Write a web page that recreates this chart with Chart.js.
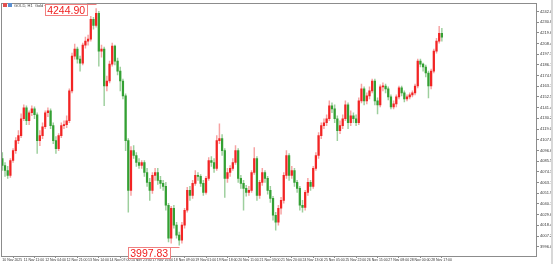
<!DOCTYPE html>
<html><head><meta charset="utf-8">
<script src="https://cdn.jsdelivr.net/npm/chart.js@4/dist/chart.umd.min.js"></script>
<style>html,body{margin:0;padding:0;background:#fff;}canvas{display:block;}</style>
</head><body>
<canvas id="c" width="553" height="264"></canvas>
<script>
const chartTitle = "GOLD, H1  Gold vs US Dollar";
const xTickLabels = ["10 Nov 2025","11 Nov 11:00","12 Nov 04:00","12 Nov 21:00","13 Nov 14:00","14 Nov 07:00","14 Nov 23:00","17 Nov 16:00","18 Nov 09:00","19 Nov 01:00","19 Nov 18:00","20 Nov 11:00","21 Nov 03:00","21 Nov 20:00","24 Nov 13:00","25 Nov 05:00","25 Nov 22:00","26 Nov 15:00","27 Nov 08:00","28 Nov 00:00","28 Nov 17:00"];
const xTickEvery = 8;
const totalSlots = 200;
const yTickValues = [3996.06,4007.24,4018.42,4029.60,4040.78,4051.96,4063.14,4074.32,4085.50,4096.68,4107.86,4119.04,4130.22,4141.40,4152.58,4163.76,4174.94,4186.12,4197.30,4208.48,4219.66,4230.84,4242.02];
const yMin = 3986.4, yMax = 4250.4;
const highLabel = "4244.90", lowLabel = "3997.83";

const opens = [
4088.3,4081.0,4075.8,4070.6,4086.2,4096.6,4107.0,4112.2,4129.8,4141.3,
4127.8,4136.1,4140.2,4134.0,4107.0,4112.2,4121.5,4136.1,4138.2,4122.6,
4107.0,4098.7,4112.2,4122.6,4123.6,4127.8,4158.9,4195.3,4202.6,4192.2,
4188.0,4206.8,4210.9,4213.0,4233.8,4227.5,4240.0,4200.5,4202.6,4164.1,
4169.3,4187.0,4205.7,4190.1,4179.7,4169.3,4153.8,4107.0,4055.0,4096.6,
4091.4,4084.1,4081.0,4084.1,4073.7,4063.3,4055.0,4070.6,4073.7,4065.4,
4062.3,4059.2,4039.4,4005.1,4036.3,4018.6,4008.2,4003.0,4018.6,4034.2,
4055.0,4049.8,4062.3,4070.6,4069.6,4062.3,4052.9,4067.5,4086.2,4084.1,
4077.9,4107.0,4109.1,4096.6,4067.5,4073.7,4077.9,4084.1,4096.6,4067.5,
4062.3,4057.1,4052.9,4055.0,4073.7,4088.3,4049.8,4063.3,4073.7,4067.5,
4055.0,4046.7,4029.0,4021.7,4036.3,4044.6,4070.6,4091.4,4070.6,4075.8,
4063.3,4057.1,4039.4,4037.3,4052.9,4063.3,4059.2,4077.9,4091.4,4112.2,
4122.6,4125.7,4129.8,4143.4,4140.2,4129.8,4117.4,4122.6,4129.8,4144.4,
4125.7,4133.0,4129.8,4125.7,4148.6,4161.0,4148.6,4153.8,4158.9,4169.3,
4148.6,4144.4,4163.1,4164.1,4161.0,4152.7,4142.3,4145.4,4152.7,4162.1,
4156.9,4150.6,4152.7,4154.8,4156.9,4164.1,4190.1,4187.0,4183.9,4177.7,
4164.1,4179.7,4200.5,4210.9,4219.2];
const highs = [
4094.5,4084.1,4080.0,4088.3,4098.7,4110.1,4117.4,4135.0,4144.4,4143.4,
4138.2,4143.4,4142.3,4136.1,4117.4,4125.7,4138.2,4141.3,4140.2,4125.7,
4111.1,4114.3,4125.7,4127.8,4133.0,4161.0,4198.4,4207.8,4204.7,4195.3,
4208.8,4215.1,4217.2,4236.9,4235.9,4244.90,4242.1,4206.8,4204.7,4174.5,
4190.1,4208.8,4206.8,4193.2,4183.9,4171.4,4155.8,4109.1,4100.7,4101.8,
4094.5,4088.3,4086.2,4086.2,4077.9,4067.5,4073.7,4077.9,4077.9,4069.6,
4065.4,4063.3,4041.5,4038.4,4039.4,4021.7,4011.4,4021.7,4036.3,4058.1,
4059.2,4065.4,4075.8,4073.7,4071.6,4065.4,4069.6,4089.3,4090.3,4088.3,
4112.2,4124.6,4113.2,4098.7,4077.9,4081.0,4088.3,4101.8,4098.7,4070.6,
4065.4,4060.2,4059.2,4075.8,4099.7,4090.3,4065.4,4077.9,4075.8,4069.6,
4059.2,4048.8,4032.1,4039.4,4047.7,4073.7,4096.6,4093.5,4080.0,4077.9,
4065.4,4059.2,4044.6,4055.0,4067.5,4065.4,4080.0,4094.5,4115.3,4125.7,
4129.8,4134.0,4148.6,4146.5,4144.4,4133.0,4127.8,4134.0,4148.6,4146.5,
4138.2,4136.1,4134.0,4151.7,4166.2,4163.1,4156.9,4163.1,4171.4,4171.4,
4151.7,4165.2,4167.3,4166.2,4163.1,4154.8,4148.6,4154.8,4164.1,4164.1,
4158.9,4154.8,4156.9,4158.9,4166.2,4192.2,4192.2,4188.0,4186.0,4179.7,
4181.8,4202.6,4214.0,4226.5,4224.4];
const lows = [
4075.8,4069.6,4067.5,4068.5,4084.1,4093.5,4103.9,4110.1,4127.8,4123.6,
4123.6,4133.0,4129.8,4093.5,4101.8,4109.1,4119.5,4131.9,4119.5,4103.9,
4093.5,4096.6,4110.1,4119.5,4120.5,4125.7,4156.9,4192.2,4188.0,4179.7,
4186.0,4203.6,4206.8,4210.9,4223.4,4225.5,4184.9,4194.3,4143.4,4158.9,
4167.3,4184.9,4186.0,4175.6,4158.9,4150.6,4096.6,4032.1,4049.8,4088.3,
4080.0,4077.9,4077.9,4069.6,4059.2,4044.6,4051.9,4065.4,4061.2,4057.1,
4055.0,4034.2,4001.0,3999.9,4015.5,4005.1,3997.83,3999.9,4015.5,4032.1,
4044.6,4046.7,4060.2,4065.4,4059.2,4049.8,4050.9,4065.4,4080.0,4073.7,
4075.8,4103.9,4091.4,4047.7,4063.3,4069.6,4075.8,4082.0,4063.3,4057.1,
4034.2,4048.8,4049.8,4052.9,4071.6,4044.6,4046.7,4060.2,4063.3,4050.9,
4042.5,4023.8,4013.4,4018.6,4030.1,4041.5,4067.5,4065.4,4067.5,4059.2,
4052.9,4034.2,4032.1,4034.2,4049.8,4055.0,4057.1,4075.8,4088.3,4109.1,
4119.5,4122.6,4127.8,4136.1,4125.7,4107.0,4114.3,4119.5,4127.8,4119.5,
4122.6,4125.7,4122.6,4123.6,4146.5,4144.4,4145.4,4150.6,4156.9,4144.4,
4135.0,4142.3,4158.9,4156.9,4149.6,4140.2,4140.2,4142.3,4150.6,4153.8,
4147.5,4148.6,4150.6,4152.7,4154.8,4162.1,4183.9,4179.7,4173.5,4151.7,
4161.0,4177.7,4198.4,4208.8,4210.9];
const closes = [
4081.0,4075.8,4070.6,4086.2,4096.6,4107.0,4112.2,4129.8,4141.3,4127.8,
4136.1,4140.2,4134.0,4107.0,4112.2,4121.5,4136.1,4138.2,4122.6,4107.0,
4098.7,4112.2,4122.6,4123.6,4127.8,4158.9,4195.3,4202.6,4192.2,4188.0,
4206.8,4210.9,4213.0,4233.8,4227.5,4240.0,4200.5,4202.6,4164.1,4169.3,
4187.0,4205.7,4190.1,4179.7,4169.3,4153.8,4107.0,4055.0,4096.6,4091.4,
4084.1,4081.0,4084.1,4073.7,4063.3,4055.0,4070.6,4073.7,4065.4,4062.3,
4059.2,4039.4,4005.1,4036.3,4018.6,4008.2,4003.0,4018.6,4034.2,4055.0,
4049.8,4062.3,4070.6,4069.6,4062.3,4052.9,4067.5,4086.2,4084.1,4077.9,
4107.0,4109.1,4096.6,4067.5,4073.7,4077.9,4084.1,4096.6,4067.5,4062.3,
4057.1,4052.9,4055.0,4073.7,4088.3,4049.8,4063.3,4073.7,4067.5,4055.0,
4046.7,4029.0,4021.7,4036.3,4044.6,4070.6,4091.4,4070.6,4075.8,4063.3,
4057.1,4039.4,4037.3,4052.9,4063.3,4059.2,4077.9,4091.4,4112.2,4122.6,
4125.7,4129.8,4143.4,4140.2,4129.8,4117.4,4122.6,4129.8,4144.4,4125.7,
4133.0,4129.8,4125.7,4148.6,4161.0,4148.6,4153.8,4158.9,4169.3,4148.6,
4144.4,4163.1,4164.1,4161.0,4152.7,4142.3,4145.4,4152.7,4162.1,4156.9,
4150.6,4152.7,4154.8,4156.9,4164.1,4190.1,4187.0,4183.9,4177.7,4164.1,
4179.7,4200.5,4210.9,4219.2,4215.1];

const UP = '#f22424', DOWN = '#33a033';
const UP_WICK = 'rgba(240,70,70,0.5)', DOWN_WICK = 'rgba(60,160,60,0.5)';
const isUp = closes.map((c, i) => c >= opens[i]);

const wickData = lows.map((l, i) => ({x: i, y: [l, highs[i]]}));
const bodyData = opens.map((o, i) => ({x: i, y: [o, closes[i]]}));

let hiIdx = 0, loIdx = 0;
highs.forEach((h, i) => { if (h > highs[hiIdx]) hiIdx = i; });
lows.forEach((l, i) => { if (l < lows[loIdx]) loIdx = i; });

const FONT = "'Liberation Sans', Arial, sans-serif";

const decor = {
  id: 'decor',
  beforeDraw(chart) {
    const ctx = chart.ctx;
    ctx.save();
    ctx.fillStyle = '#ffffff';
    ctx.fillRect(0, 0, chart.width, chart.height);
    ctx.restore();
  },
  afterDraw(chart) {
    const ctx = chart.ctx, a = chart.chartArea;
    const xs = chart.scales.x, ys = chart.scales.y;
    ctx.save();
    ctx.strokeStyle = '#8c8c8c';
    ctx.lineWidth = 1;
    ctx.strokeRect(Math.round(a.left) + 0.5, Math.round(a.top) + 0.5, Math.round(a.right - a.left) - 1, Math.round(a.bottom - a.top));
    ctx.fillStyle = '#d8d8d8';
    ctx.fillRect(chart.width - 2, 0, 2, chart.height);
    ctx.fillStyle = '#e05050'; ctx.fillRect(3, 3, 4, 4);
    ctx.fillStyle = '#5a8fd0'; ctx.fillRect(8, 3, 4, 4);
    ctx.fillStyle = '#444';
    ctx.font = '4px ' + FONT;
    ctx.textBaseline = 'middle';
    ctx.textAlign = 'left';
    ctx.fillText(chartTitle, 14, 5.5);
    ctx.font = '10.5px ' + FONT;
    ctx.textBaseline = 'alphabetic';
    const drawTag = (text, idx, val, above) => {
      const bx = xs.getPixelForValue(idx), by = ys.getPixelForValue(val);
      const w = 42, h = 11;
      const right = bx - 9, left = right - w;
      const top = above ? by - 5 : by + 2;
      ctx.fillStyle = '#ffffff';
      ctx.fillRect(left, top, w, h);
      ctx.strokeStyle = '#f08080';
      ctx.lineWidth = 1;
      ctx.strokeRect(Math.round(left) + 0.5, Math.round(top) + 0.5, w, h);
      ctx.beginPath();
      const ly = Math.round(top) + 0.5;
      ctx.moveTo(Math.round(right) + 0.5, ly);
      ctx.lineTo(Math.round(bx) + 0.5, ly);
      ctx.stroke();
      ctx.fillStyle = '#f02020';
      ctx.textAlign = 'center';
      ctx.fillText(text, left + w / 2, top + h - 1);
    };
    drawTag(highLabel, hiIdx, highs[hiIdx], true);
    drawTag(lowLabel, loIdx, lows[loIdx], false);
    ctx.restore();
  }
};

new Chart(document.getElementById('c'), {
  type: 'bar',
  data: {
    datasets: [
      {
        label: 'wick', data: wickData, grouped: false, barThickness: 0.8,
        backgroundColor: isUp.map(u => u ? UP_WICK : DOWN_WICK), borderWidth: 0, order: 2
      },
      {
        label: 'body', data: bodyData, grouped: false, barThickness: 1.6, minBarLength: 1,
        backgroundColor: isUp.map(u => u ? UP : DOWN), borderWidth: 0, order: 1
      }
    ]
  },
  options: {
    responsive: false,
    animation: false,
    devicePixelRatio: 1,
    layout: { padding: { left: 1, top: 2, right: 0, bottom: 0 } },
    plugins: { legend: { display: false }, tooltip: { enabled: false } },
    scales: {
      x: {
        type: 'linear', min: -0.5, max: totalSlots - 0.5, offset: false,
        grid: { drawOnChartArea: false, drawTicks: true, tickLength: 2, color: '#8c8c8c' },
        border: { display: false },
        afterBuildTicks(s) { s.ticks = xTickLabels.map((_, k) => ({ value: k * xTickEvery })); },
        afterFit(s) { s.height = 8; },
        ticks: {
          autoSkip: false, maxRotation: 0, minRotation: 0, align: 'start', padding: 0,
          font: { size: 3.5, family: FONT }, color: '#333',
          callback: (v, k) => xTickLabels[k]
        }
      },
      y: {
        position: 'right', min: yMin, max: yMax,
        grid: { drawOnChartArea: false, drawTicks: true, tickLength: 2, color: '#8c8c8c' },
        border: { display: false },
        afterBuildTicks(s) { s.ticks = yTickValues.map(v => ({ value: v })); },
        afterFit(s) { s.width = 16; },
        ticks: {
          autoSkip: false, padding: 1,
          font: { size: 4, family: FONT }, color: '#333',
          callback: v => v.toFixed(2)
        }
      }
    }
  },
  plugins: [decor]
});
</script>
</body></html>
